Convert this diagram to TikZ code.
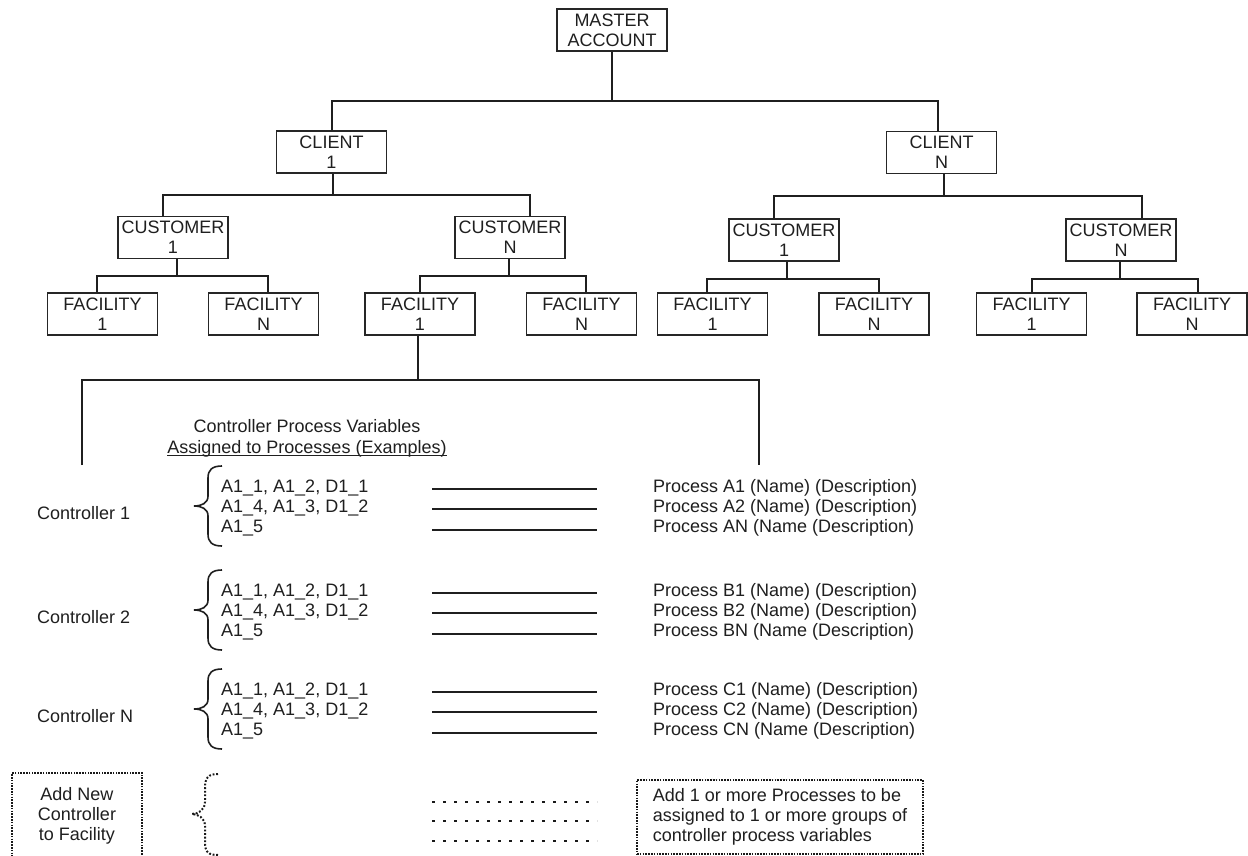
\documentclass[tikz,border=0pt]{standalone}
\usepackage{fontspec}
\setmainfont{Liberation Sans}
\begin{document}
\begin{tikzpicture}[x=1pt,y=-1pt,
  every node/.style={font=\fontsize{18}{20}\selectfont, text=black!88},
  box/.style={draw=black!85, line width=1.1pt, minimum width=110, minimum height=42, inner sep=0pt, align=center},
  tree/.style={draw=black!88, line width=2pt},
  pline/.style={draw=black!88, line width=2pt},
  dline/.style={draw=black!90, line width=2.5pt, dash pattern=on 2.5pt off 8.5pt},
  dbox/.style={draw=black!90, line width=2.6pt, dash pattern=on 1.6pt off 1.2pt},
  bracepath/.style={draw=black!88, line width=1.6pt},
  dbrace/.style={draw=black!90, line width=2pt, dash pattern=on 1.8pt off 1.8pt},
  lbl/.style={anchor=base west, inner sep=0pt}]
\useasboundingbox (0,0) rectangle (1248,856);
\fill[white] (0,0) rectangle (1248,856);

% ---- tree boxes
\node[box] (master)  at (612,30)    {MASTER\\ACCOUNT};
\node[box] (client1) at (331.5,152) {CLIENT\\1};
\node[box] (clientN) at (941.5,152.5) {CLIENT\\N};
\node[box] (cA1) at (173,237.5)  {CUSTOMER\\1};
\node[box] (cAN) at (510,237.5)  {CUSTOMER\\N};
\node[box] (cB1) at (784,240)    {CUSTOMER\\1};
\node[box] (cBN) at (1121,240)   {CUSTOMER\\N};
\node[box] (fA11) at (102.5,314)  {FACILITY\\1};
\node[box] (fA1N) at (263.5,314)  {FACILITY\\N};
\node[box] (fAN1) at (420,314)    {FACILITY\\1};
\node[box] (fANN) at (581.5,314)  {FACILITY\\N};
\node[box] (fB11) at (712.5,314)  {FACILITY\\1};
\node[box] (fB1N) at (874,314)    {FACILITY\\N};
\node[box] (fBN1) at (1031.5,314) {FACILITY\\1};
\node[box] (fBNN) at (1192,314)   {FACILITY\\N};

% ---- tree connectors
\draw[tree] (master.south) -- ++(0,49) coordinate (bm);
\draw[tree] (client1.north) |- (bm) -| ([xshift=-3.5pt]clientN.north);
\draw[tree] ([xshift=1.5pt]client1.south) -- ++(0,21) coordinate (b1);
\draw[tree] ([xshift=-10pt]cA1.north) |- (b1) -| ([xshift=20pt]cAN.north);
\draw[tree] ([xshift=2.5pt]clientN.south) -- ++(0,22) coordinate (b2);
\draw[tree] ([xshift=-10pt]cB1.north) |- (b2) -| ([xshift=21pt]cBN.north);
\draw[tree] ([xshift=4pt]cA1.south) -- ++(0,17) coordinate (b3);
\draw[tree] ([xshift=-5.5pt]fA11.north) |- (b3) -| ([xshift=4.5pt]fA1N.north);
\draw[tree] ([xshift=-1pt]cAN.south) -- ++(0,17) coordinate (b4);
\draw[tree] (fAN1.north) |- (b4) -| ([xshift=4.5pt]fANN.north);
\draw[tree] ([xshift=3pt]cB1.south) -- ++(0,17) coordinate (b5);
\draw[tree] ([xshift=-5.5pt]fB11.north) |- (b5) -| ([xshift=5pt]fB1N.north);
\draw[tree] ([xshift=-1pt]cBN.south) -- ++(0,17) coordinate (b6);
\draw[tree] (fBN1.north) |- (b6) -| ([xshift=6pt]fBNN.north);
\coordinate (ctrlL) at (82,465);
\coordinate (ctrlR) at (759,465);
\draw[tree] ([xshift=-2pt]fAN1.south) -- ++(0,44) coordinate (b7);
\draw[tree] (ctrlL) |- (b7) -| (ctrlR);

% ---- heading
\node[anchor=base, inner sep=0pt] (h1) at (307,432) {Controller Process Variables};
\node[anchor=base, inner sep=0pt] (h2) at (307,453) {Assigned to Processes (Examples)};
\draw[draw=black!88, line width=1.1pt] ([yshift=-2.2pt]h2.base west) -- ([yshift=-2.2pt]h2.base east);

% ---- controller blocks
\foreach \y/\c/\p in {492/1/A, 596/2/B, 695/N/C}{
  \node[lbl] (ctl\c) at (37,\y+27) {Controller \c};
  \node[lbl] (va\c) at (221,\y)    {A1\_1, A1\_2, D1\_1};
  \node[lbl] (vb\c) at (221,\y+20) {A1\_4, A1\_3, D1\_2};
  \node[lbl] (vc\c) at (221,\y+40) {A1\_5};
  \node[lbl] (pa\c) at (653,\y)    {Process \p1 (Name) (Description)};
  \node[lbl] (pb\c) at (653,\y+20) {Process \p2 (Name) (Description)};
  \node[lbl] (pc\c) at (653,\y+40) {Process \p N (Name (Description)};
  \draw[pline] (432,\y-3) -- (597,\y-3);
  \draw[pline] (432,\y+17) -- (597,\y+17);
  \draw[pline] (432,\y+38) -- (597,\y+38);
  \draw[bracepath] (222,\y-26) .. controls (212,\y-26) and (208,\y-22) .. (208,\y-14)
     -- (208,\y+4) .. controls (208,\y+11) and (202,\y+14) .. (194,\y+14)
     .. controls (202,\y+14) and (208,\y+17) .. (208,\y+24)
     -- (208,\y+42) .. controls (208,\y+50) and (212,\y+54) .. (222,\y+54);
}

% ---- add new controller / processes
\node[dbox, minimum width=130, minimum height=86, inner sep=0pt, align=center] (addctl) at (77,816)
  {Add New\\Controller\\to Facility};
\draw[dbrace] (218,774) .. controls (208,774) and (205,778) .. (205,788)
   -- (205,802) .. controls (205,810) and (198,814) .. (192,814)
   .. controls (198,814) and (205,818) .. (205,826)
   -- (205,842) .. controls (205,852) and (208,855) .. (218,855);
\draw[dline] (432,802) -- (597,802);
\draw[dline] (432,821) -- (597,821);
\draw[dline] (432,841) -- (597,841);
\node[dbox, minimum width=286, minimum height=74, inner sep=0pt, align=left] (addproc) at (780,817)
  {Add 1 or more Processes to be\\assigned to 1 or more groups of\\controller process variables};
\end{tikzpicture}
\end{document}
